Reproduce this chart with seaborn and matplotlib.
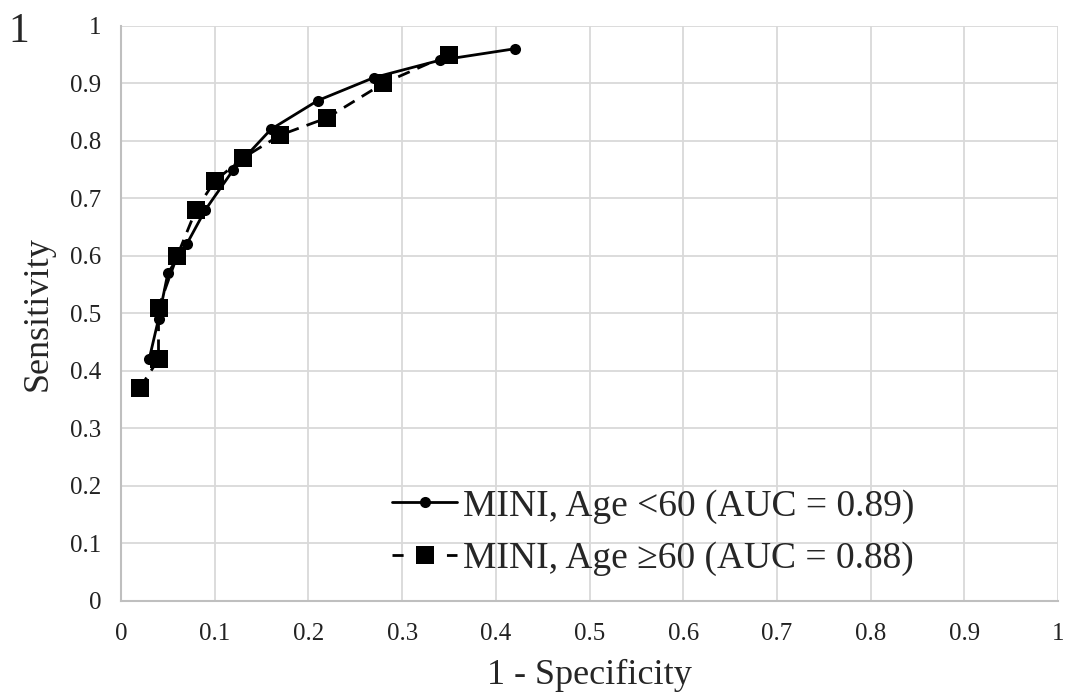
import matplotlib
matplotlib.use("Agg")
import matplotlib.pyplot as plt
import seaborn as sns
import pandas as pd
import numpy as np

# Data
fpr_lt60 = [0.03, 0.04, 0.05, 0.07, 0.09, 0.12, 0.16, 0.21, 0.27, 0.34, 0.42]
sens_lt60 = [0.42, 0.49, 0.57, 0.62, 0.68, 0.75, 0.82, 0.87, 0.91, 0.94, 0.96]
fpr_ge60 = [0.02, 0.04, 0.04, 0.06, 0.08, 0.10, 0.13, 0.17, 0.22, 0.28, 0.35]
sens_ge60 = [0.37, 0.42, 0.51, 0.60, 0.68, 0.73, 0.77, 0.81, 0.84, 0.90, 0.95]
label_lt60 = "MINI, Age <60 (AUC = 0.89)"
label_ge60 = "MINI, Age \u226560 (AUC = 0.88)"
ticks = [0, 0.1, 0.2, 0.3, 0.4, 0.5, 0.6, 0.7, 0.8, 0.9, 1]
tick_labels = ["0", "0.1", "0.2", "0.3", "0.4", "0.5", "0.6", "0.7", "0.8", "0.9", "1"]

sns.set_theme(style="white")
plt.rcParams['font.family'] = ['Liberation Serif', 'DejaVu Serif']

fig = plt.figure(figsize=(10.71, 6.97), dpi=100)
ax = fig.add_axes([0.113, 0.138, 0.875, 0.825])

sns.lineplot(x=fpr_lt60, y=sens_lt60, sort=False, ax=ax, color="black",
             linewidth=2.0, marker="o", markersize=8, markeredgewidth=0,
             label=label_lt60, estimator=None)
sns.lineplot(x=fpr_ge60, y=sens_ge60, sort=False, ax=ax, color="black",
             linewidth=2.0, marker="s", markersize=13, markeredgewidth=0,
             dashes=False, label=label_ge60, estimator=None)
ax.lines[1].set_dashes([4.5, 3])

ax.set_xlim(0, 1)
ax.set_ylim(0, 1)
ax.set_xticks(ticks)
ax.set_xticklabels(tick_labels)
ax.set_yticks(ticks)
ax.set_yticklabels(tick_labels)
ax.tick_params(axis='both', labelsize=18, length=0, colors="#222222")
ax.tick_params(axis='x', pad=16)
ax.tick_params(axis='y', pad=14)
ax.grid(True, color="#d9d9d9", linewidth=1.3)
for s in ["top", "right"]:
    ax.spines[s].set_visible(False)
for s in ["left", "bottom"]:
    ax.spines[s].set_color("#bfbfbf")
    ax.spines[s].set_linewidth(1.5)

ax.set_xlabel("1 - Specificity", fontsize=26, labelpad=10)
ax.set_ylabel("Sensitivity", fontsize=26, labelpad=11)

leg = ax.legend(loc="lower left", bbox_to_anchor=(0.261, -0.003), frameon=False,
                fontsize=27, handlelength=1.75, handletextpad=0.15,
                labelspacing=0.48, borderpad=0.2)
leg.legend_handles[1].set_dashes([4, 15.6])

fig.text(0.008, 0.955, "1", fontsize=30, ha="left", va="center")

fig.savefig("out.png", dpi=100)
